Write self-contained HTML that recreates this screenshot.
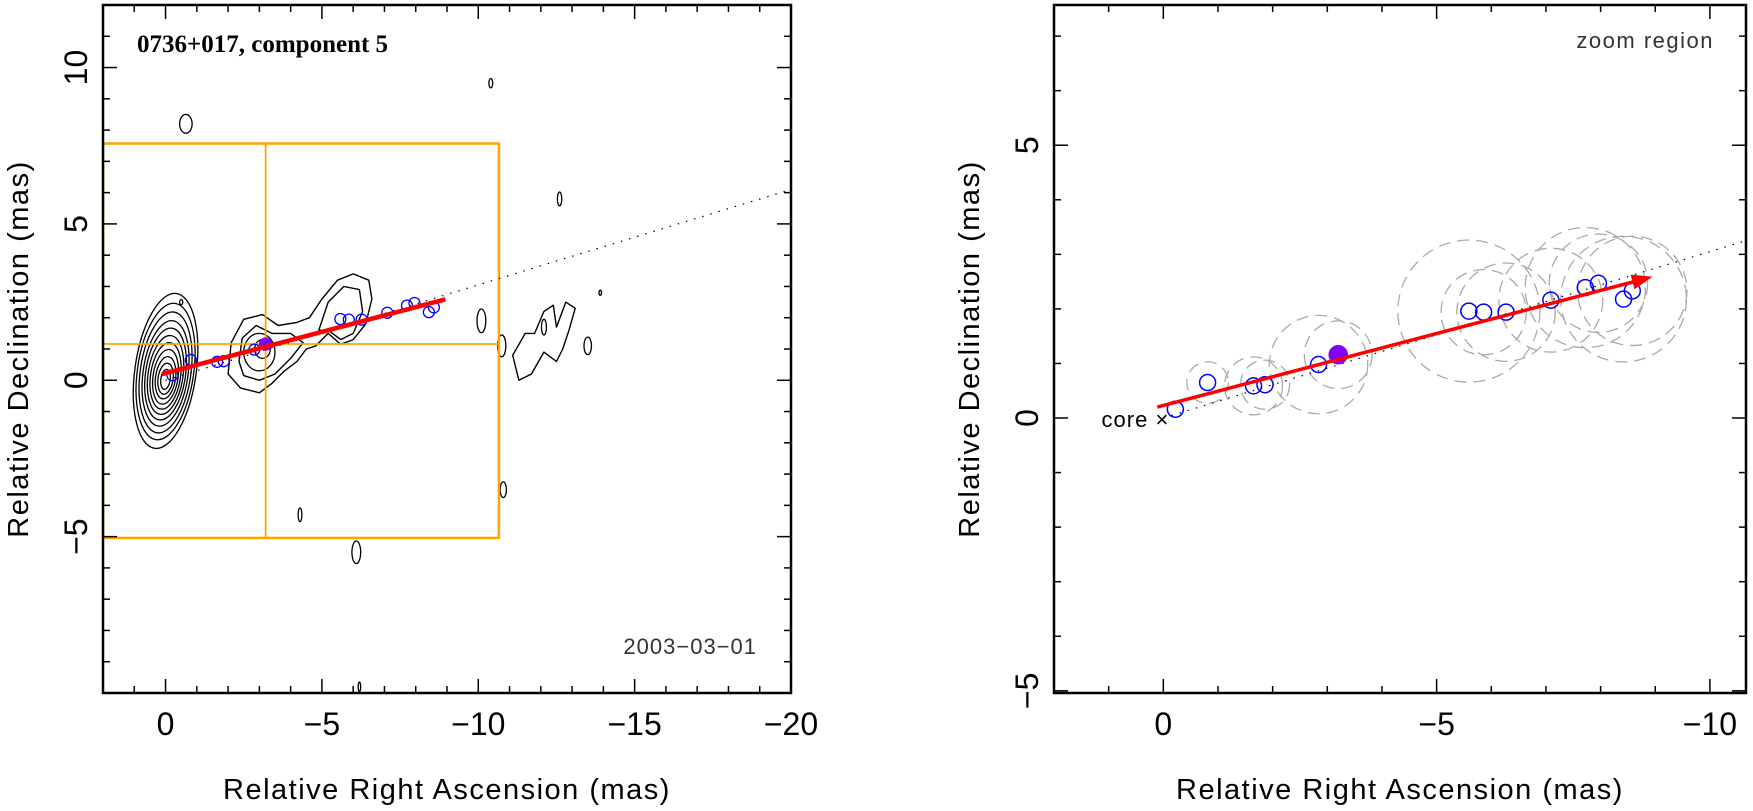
<!DOCTYPE html>
<html><head><meta charset="utf-8">
<style>
html,body{margin:0;padding:0;background:#fff;}
svg{display:block;font-family:"Liberation Sans",sans-serif;}
.tl{font-size:32px;fill:#000;}
.at{font-size:29px;fill:#000;letter-spacing:1.5px;}
</style></head>
<body>
<svg id="chart" width="1753" height="811" viewBox="0 0 1753 811" xmlns="http://www.w3.org/2000/svg">
<g id="left"></g>
<g id="right"></g>
</svg>
<script>
// ---- component positions (RA, Dec in mas) ----
const compRA  = [-0.22,-0.81,-1.65,-1.86,-2.84,-3.20,-5.59,-5.86,-6.27,-7.09,-7.72,-7.96,-8.42,-8.58];
const compDec = [ 0.16, 0.65, 0.59, 0.61, 0.98, 1.16, 1.96, 1.94, 1.94, 2.16, 2.39, 2.47, 2.18, 2.33];
const compErr = [ 0.0, 0.38, 0.53, 0.45, 0.9, 0.62, 1.3, 0.78, 0.9, 0.95, 1.1, 0.9, 1.15, 1.0];
const highlightIndex = 5;
const arrowStart = [0.11, 0.20];
const arrowEnd = [-8.95, 2.59];
const dottedSlope = -0.305;
const zoomBox = {ra1: 2.0, ra2: -10.66, dec1: -5.04, dec2: 7.57};
const xTicksLeft = [0,-5,-10,-15,-20];
const yTicksLeft = [-5,0,5,10];
const xTicksRight = [0,-5,-10];
const yTicksRight = [-5,0,5];
// core contour ellipses: [cx, cy, rx, ry]
const coreLevels = [[0,0.3,0.98,2.5],[0,0.28,0.9,2.2],[0,0.25,0.81,1.95],[0,0.22,0.72,1.7],[0,0.2,0.64,1.48],[0,0.17,0.56,1.27],[0,0.14,0.48,1.07],[0,0.11,0.4,0.88],[0,0.08,0.32,0.68],[0,0.05,0.24,0.5],[0,0.03,0.15,0.32]];
const jetOuter = [[-2.0,0.2],[-2.1,1.2],[-2.5,1.95],[-3.1,2.1],[-3.6,1.75],[-4.2,1.85],[-4.6,2.0],[-5.0,2.6],[-5.5,3.2],[-6.0,3.4],[-6.5,3.2],[-6.6,2.6],[-6.4,1.8],[-6.0,1.3],[-5.6,1.15],[-5.2,1.5],[-4.8,1.1],[-4.5,1.0],[-4.2,0.6],[-3.8,0.3],[-3.4,-0.1],[-3.0,-0.4],[-2.4,-0.25]];
const jetMid = [[-2.35,0.6],[-2.45,1.35],[-2.9,1.75],[-3.4,1.5],[-4.0,1.5],[-4.4,1.2],[-4.0,0.7],[-3.5,0.2],[-3.0,0.0],[-2.5,0.15]];
const jetMid2 = [[-4.9,1.6],[-5.2,2.5],[-5.7,3.0],[-6.2,2.9],[-6.3,2.2],[-6.0,1.5],[-5.6,1.3],[-5.2,1.6]];
const farBlob = [[-11.3,0.0],[-11.1,0.8],[-11.5,1.5],[-11.8,1.5],[-12.1,2.2],[-12.4,2.4],[-12.5,1.7],[-12.8,2.5],[-13.1,2.3],[-12.9,1.6],[-12.7,1.0],[-12.5,0.6],[-12.1,0.9],[-11.7,0.2]];
const smallBlobs = [[-3.0,0.9,0.5,0.6],[-3.1,1.0,0.25,0.3],[-0.65,8.2,0.2,0.3],[-10.4,9.5,0.06,0.15],[-12.6,5.8,0.07,0.22],[-10.1,1.9,0.14,0.38],[-10.75,1.1,0.13,0.35],[-13.5,1.1,0.12,0.28],[-12.1,1.7,0.08,0.25],[-13.9,2.8,0.04,0.08],[-10.8,-3.5,0.1,0.25],[-4.3,-4.3,0.06,0.22],[-6.1,-5.5,0.14,0.36],[-6.2,-9.8,0.04,0.15],[-0.5,2.5,0.05,0.08]];

const NS="http://www.w3.org/2000/svg";
function mk(parent,tag,attrs){const e=document.createElementNS(NS,tag);for(const k in attrs)e.setAttribute(k,attrs[k]);parent.appendChild(e);return e;}

function axes(g,x0,x1,y0,y1,d){
  const sx=v=>x0+(d.ra1-v)/(d.ra1-d.ra2)*(x1-x0);
  const sy=v=>y1-(v-d.dec1)/(d.dec2-d.dec1)*(y1-y0);
  return {sx,sy};
}
function frame(g,x0,x1,y0,y1,d,sx,sy,xt,yt,tag){
  const f=mk(g,'rect',{x:x0,y:y0,width:x1-x0,height:y1-y0,fill:'none',stroke:'#000','stroke-width':2.5});
  
  
  const lo=Math.ceil(Math.min(d.ra1,d.ra2)),hi=Math.floor(Math.max(d.ra1,d.ra2));
  for(let v=lo;v<=hi;v++){const L=v%5===0?14:7;const x=sx(v);
    mk(g,'line',{x1:x,x2:x,y1:y1,y2:y1-L,stroke:'#000','stroke-width':1.5});
    mk(g,'line',{x1:x,x2:x,y1:y0,y2:y0+L,stroke:'#000','stroke-width':1.5});}
  const lo2=Math.ceil(d.dec1),hi2=Math.floor(d.dec2);
  for(let v=lo2;v<=hi2;v++){const L=v%5===0?14:7;const y=sy(v);
    mk(g,'line',{x1:x0,x2:x0+L,y1:y,y2:y,stroke:'#000','stroke-width':1.5});
    mk(g,'line',{x1:x1,x2:x1-L,y1:y,y2:y,stroke:'#000','stroke-width':1.5});}
  xt.forEach(v=>{const t=mk(g,'text',{x:sx(v),y:y1+42,'text-anchor':'middle',class:'tl'});t.textContent=v===0?'0':'\u2212'+Math.abs(v);
    
    });
  yt.forEach(v=>{const X=x0-16,Y=sy(v);const t=mk(g,'text',{x:X,y:Y,'text-anchor':'middle',class:'tl',transform:`rotate(-90 ${X} ${Y})`});t.textContent=v<0?'\u2212'+Math.abs(v):String(v);
    
    });
  const xa=mk(g,'text',{x:(x0+x1)/2,y:799,'text-anchor':'middle',class:'at'});xa.textContent='Relative Right Ascension (mas)';
  
  
  const X=x0-75,Y=(y0+y1)/2;
  const ya=mk(g,'text',{x:X,y:Y,'text-anchor':'middle',class:'at',transform:`rotate(-90 ${X} ${Y})`});ya.textContent='Relative Declination (mas)';
  
  
}
function poly(g,pts,sx,sy){const d=pts.map((p,i)=>(i?'L':'M')+sx(p[0]).toFixed(1)+' '+sy(p[1]).toFixed(1)).join(' ')+'Z';
  const p=mk(g,'path',{d,fill:'none',stroke:'#000','stroke-width':1.4,'stroke-linejoin':'round'});return p;}

// ---- LEFT ----
(function(){
  const g=document.getElementById('left');
  const d={ra1:2,ra2:-20,dec1:-10,dec2:12};
  const x0=103,x1=791,y0=5,y1=693;
  const {sx,sy}=axes(g,x0,x1,y0,y1,d);
  const k=(x1-x0)/22;
  coreLevels.forEach(c=>{const e=mk(g,'ellipse',{cx:sx(c[0]),cy:sy(c[1]),rx:c[2]*k,ry:c[3]*k,fill:'none',stroke:'#000','stroke-width':1.3,transform:`rotate(8 ${sx(c[0])} ${sy(c[1])})`});
    
    });
  [jetOuter,jetMid,jetMid2,farBlob].forEach(pts=>{const p=poly(g,pts,sx,sy);
    
    });
  smallBlobs.forEach(c=>{const e=mk(g,'ellipse',{cx:sx(c[0]),cy:sy(c[1]),rx:c[2]*k,ry:c[3]*k,fill:'none',stroke:'#000','stroke-width':1.3});
    
    });
  const zb=mk(g,'rect',{x:sx(zoomBox.ra1),y:sy(zoomBox.dec2),width:sx(zoomBox.ra2)-sx(zoomBox.ra1),height:sy(zoomBox.dec1)-sy(zoomBox.dec2),fill:'none',stroke:'#ffa500','stroke-width':2.5});
  
  
  const h=compRA[highlightIndex],v=compDec[highlightIndex];
  mk(g,'line',{x1:sx(h),x2:sx(h),y1:sy(zoomBox.dec1),y2:sy(zoomBox.dec2),stroke:'#ffa500','stroke-width':1.8});
  mk(g,'line',{x1:sx(zoomBox.ra1),x2:sx(zoomBox.ra2),y1:sy(v),y2:sy(v),stroke:'#ffa500','stroke-width':1.8});
  const dl=mk(g,'line',{x1:sx(0),y1:sy(0),x2:sx(-20),y2:sy(-20*dottedSlope),stroke:'#000','stroke-width':1.2,'stroke-dasharray':'1.5 7'});
  
  
  compRA.forEach((r,i)=>{const c=mk(g,'circle',{cx:sx(r),cy:sy(compDec[i]),r:i===highlightIndex?6:5.5,fill:i===highlightIndex?'#7f00ff':'none',stroke:i===highlightIndex?'#7f00ff':'#0000ff','stroke-width':1.3});
    
    });
  const rl=mk(g,'line',{x1:sx(arrowStart[0]),y1:sy(arrowStart[1]),x2:sx(arrowEnd[0]),y2:sy(arrowEnd[1]),stroke:'#ff0000','stroke-width':4.5});
  
  
  frame(g,x0,x1,y0,y1,d,sx,sy,xTicksLeft,yTicksLeft,'left');
  const t=mk(g,'text',{x:137,y:52,'font-family':'"Liberation Serif",serif','font-size':25,'font-weight':'bold'});t.textContent='0736+017, component 5';
  
  
  const dt=mk(g,'text',{x:757,y:654,'text-anchor':'end','font-size':22,fill:'#333','letter-spacing':'1px'});dt.textContent='2003\u221203\u221201';
  
  
})();

// ---- RIGHT ----
(function(){
  const g=document.getElementById('right');
  const d={ra1:zoomBox.ra1,ra2:zoomBox.ra2,dec1:zoomBox.dec1,dec2:zoomBox.dec2};
  const x0=1054,x1=1746,y0=5,y1=693;
  const {sx,sy}=axes(g,x0,x1,y0,y1,d);
  const k=(x1-x0)/(d.ra1-d.ra2);
  compRA.forEach((r,i)=>{if(!compErr[i])return;const c=mk(g,'circle',{cx:sx(r),cy:sy(compDec[i]),r:compErr[i]*k,fill:'none',stroke:'#aaa','stroke-width':1.3,'stroke-dasharray':'12 7'});
    
    });
  const dl=mk(g,'line',{x1:sx(0),y1:sy(0),x2:sx(d.ra2),y2:sy(d.ra2*dottedSlope),stroke:'#000','stroke-width':1.2,'stroke-dasharray':'1.5 7'});
  
  
  compRA.forEach((r,i)=>{const c=mk(g,'circle',{cx:sx(r),cy:sy(compDec[i]),r:i===highlightIndex?9:8,fill:i===highlightIndex?'#7f00ff':'none',stroke:i===highlightIndex?'#7f00ff':'#0000ff','stroke-width':1.5});
    
    });
  const ax=sx(arrowStart[0]),ay=sy(arrowStart[1]),bx=sx(arrowEnd[0]),by=sy(arrowEnd[1]);
  const ang=Math.atan2(by-ay,bx-ax);
  const rl=mk(g,'line',{x1:ax,y1:ay,x2:bx-12*Math.cos(ang),y2:by-12*Math.sin(ang),stroke:'#ff0000','stroke-width':3.5});
  
  
  const p=[[bx,by],[bx-22*Math.cos(ang-0.35),by-22*Math.sin(ang-0.35)],[bx-22*Math.cos(ang+0.35),by-22*Math.sin(ang+0.35)]];
  const ah=mk(g,'polygon',{points:p.map(q=>q.join(',')).join(' '),fill:'#ff0000'});
  
  
  const cx=mk(g,'text',{x:sx(0)+6,y:sy(0)+9,'text-anchor':'end','font-size':22,'letter-spacing':'1px'});cx.textContent='core \u00d7';
  
  
  frame(g,x0,x1,y0,y1,d,sx,sy,xTicksRight,yTicksRight,'right');
  const z=mk(g,'text',{x:1714,y:48,'text-anchor':'end','font-size':22,fill:'#333','letter-spacing':'1.5px'});z.textContent='zoom region';
  
  
})();
</script>
</body></html>
